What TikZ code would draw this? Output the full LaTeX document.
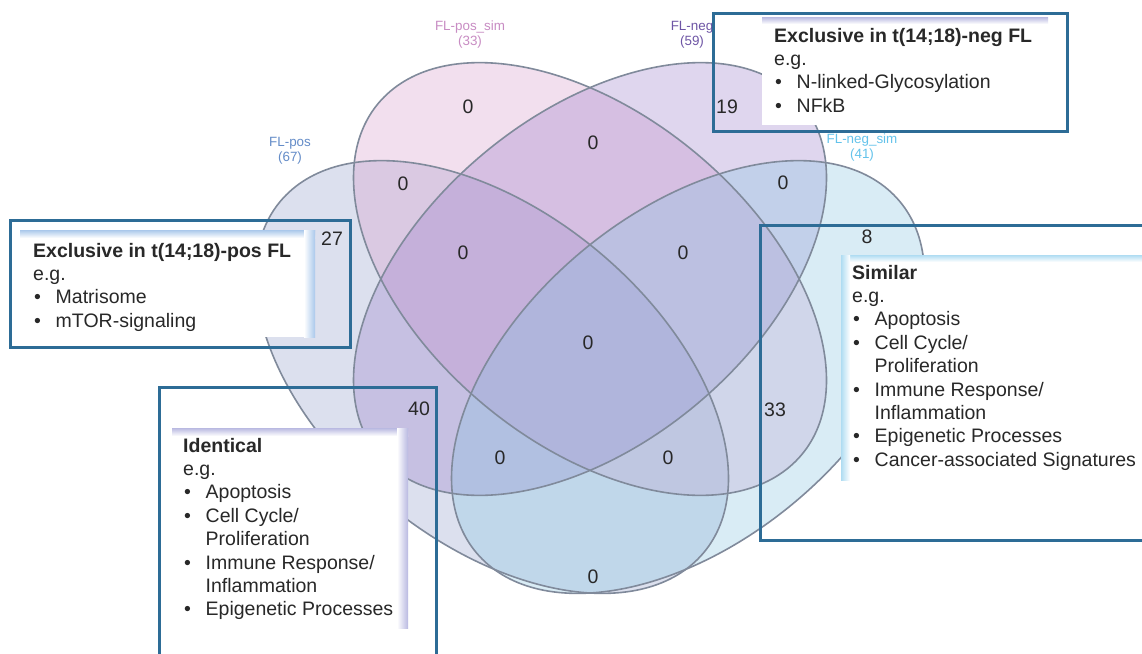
\documentclass[tikz,border=0pt]{standalone}
\usepackage{fontspec}
\setmainfont{Liberation Sans}
\definecolor{colA}{RGB}{140,155,200}
\definecolor{colB}{RGB}{215,150,200}
\definecolor{colC}{RGB}{150,120,200}
\definecolor{colD}{RGB}{130,195,225}
\definecolor{edgecol}{RGB}{128,138,155}
\definecolor{boxblue}{RGB}{45,108,150}
\definecolor{labA}{RGB}{100,140,200}
\definecolor{labB}{RGB}{200,140,195}
\definecolor{labC}{RGB}{110,85,165}
\definecolor{labD}{RGB}{100,195,235}
\definecolor{glowblue}{RGB}{170,200,235}
\definecolor{glowlav}{RGB}{185,185,225}
\definecolor{glowsky}{RGB}{175,220,242}
\definecolor{numcol}{RGB}{40,40,40}
\newcommand{\bul}{\makebox[22.5pt][l]{\hspace{1pt}\textbullet}}
\newcommand{\ind}{\hspace*{22.5pt}}
\begin{document}
\begin{tikzpicture}[x=1pt,y=-1pt,
  ellA/.style={shift={(492,377)},xscale=1.093,rotate=-45},
  ellB/.style={shift={(590,279)},xscale=1.093,rotate=-45},
  ellC/.style={shift={(590,279)},xscale=1.093,rotate=45},
  ellD/.style={shift={(688,377)},xscale=1.093,rotate=45},
  vfill/.style={fill opacity=0.3},
  vedge/.style={draw=edgecol,line width=1.6pt},
  num/.style={font=\fontsize{19.5}{21}\selectfont,text=numcol,inner sep=0pt},
  setlab/.style={font=\fontsize{13.4}{15}\selectfont,align=center,inner sep=0pt},
  outerbox/.style={draw=boxblue,line width=3pt},
  txt/.style={font=\fontsize{19.5}{23.4}\selectfont,text=numcol,inner sep=0pt,anchor=base west}
]
\useasboundingbox (0,0) rectangle (1142,653);
\fill[white] (0,0) rectangle (1142,653);

% Venn fills
\fill[colA,vfill,ellA] (0,0) ellipse [x radius=262pt,y radius=158pt];
\fill[colB,vfill,ellB] (0,0) ellipse [x radius=262pt,y radius=158pt];
\fill[colC,vfill,ellC] (0,0) ellipse [x radius=262pt,y radius=158pt];
\fill[colD,vfill,ellD] (0,0) ellipse [x radius=262pt,y radius=158pt];
% Venn outlines
\draw[vedge,ellA] (0,0) ellipse [x radius=262pt,y radius=158pt];
\draw[vedge,ellB] (0,0) ellipse [x radius=262pt,y radius=158pt];
\draw[vedge,ellC] (0,0) ellipse [x radius=262pt,y radius=158pt];
\draw[vedge,ellD] (0,0) ellipse [x radius=262pt,y radius=158pt];

% set labels
\node[setlab,text=labA] (labA) at (290,151) {FL-pos\\(67)};
\node[setlab,text=labB] (labB) at (470,35) {FL-pos\_sim\\(33)};
\node[setlab,text=labC] (labC) at (692,35) {FL-neg\\(59)};
\node[setlab,text=labD] (labD) at (862,148) {FL-neg\_sim\\(41)};

% region numbers
\node[num] (rB) at (468,107) {0};
\node[num] (rC) at (727,107) {19};
\node[num] (rBC) at (593,143) {0};
\node[num] (rAB) at (403,184) {0};
\node[num] (rCD) at (783,183) {0};
\node[num] (rA) at (332,239) {27};
\node[num] (rD) at (867,237) {8};
\node[num] (rABC) at (463,253) {0};
\node[num] (rBCD) at (683,253) {0};
\node[num] (rABCD) at (588,343) {0};
\node[num] (rAC) at (419,409) {40};
\node[num] (rBD) at (775,410) {33};
\node[num] (rACD) at (500,458) {0};
\node[num] (rABD) at (668,458) {0};
\node[num] (rAD) at (593,577) {0};

% box 1: exclusive neg
\draw[outerbox] (713,13) rectangle (1067,131);
\fill[white] (762,17) rectangle (1048,125);
\shade[top color=glowlav,bottom color=white] (762,17) rectangle (1048,24);
\node[txt] (tneg) at (774,42) {\parbox[t]{280pt}{\raggedright\textbf{Exclusive in t(14;18)-neg FL}\\e.g.\\\bul N-linked-Glycosylation\\\bul NFkB}};

% box 2: exclusive pos
\draw[outerbox] (10,220) rectangle (350,347);
\fill[white] (20,230) rectangle (315,337);
\shade[top color=glowblue,bottom color=white] (20,230) rectangle (315,238);
\shade[left color=white,right color=glowblue] (304,230) rectangle (315,337);
\node[txt] (tpos) at (33,257) {\parbox[t]{280pt}{\raggedright\textbf{Exclusive in t(14;18)-pos FL}\\e.g.\\\bul Matrisome\\\bul mTOR-signaling}};

% box 3: identical
\draw[outerbox] (159,655) -- (159,387) -- (436,387) -- (436,655);
\fill[white] (172,428) rectangle (408,628);
\shade[top color=glowlav,bottom color=white] (172,428) rectangle (408,436);
\shade[left color=white,right color=glowlav] (397,428) rectangle (408,628);
\node[txt] (tid) at (183,452) {\parbox[t]{240pt}{\raggedright\textbf{Identical}\\e.g.\\\bul Apoptosis\\\bul Cell Cycle/\\\ind Proliferation\\\bul Immune Response/\\\ind Inflammation\\\bul Epigenetic Processes}};

% box 4: similar
\draw[outerbox] (1145,225) -- (760,225) -- (760,540) -- (1145,540);
\fill[white] (841,255) rectangle (1142,480);
\shade[top color=glowsky,bottom color=white] (841,255) rectangle (1142,262);
\shade[left color=glowsky,right color=white] (841,255) rectangle (850,480);
\node[txt] (tsim) at (852,279) {\parbox[t]{290pt}{\raggedright\textbf{Similar}\\e.g.\\\bul Apoptosis\\\bul Cell Cycle/\\\ind Proliferation\\\bul Immune Response/\\\ind Inflammation\\\bul Epigenetic Processes\\\bul Cancer-associated Signatures}};
\end{tikzpicture}
\end{document}
